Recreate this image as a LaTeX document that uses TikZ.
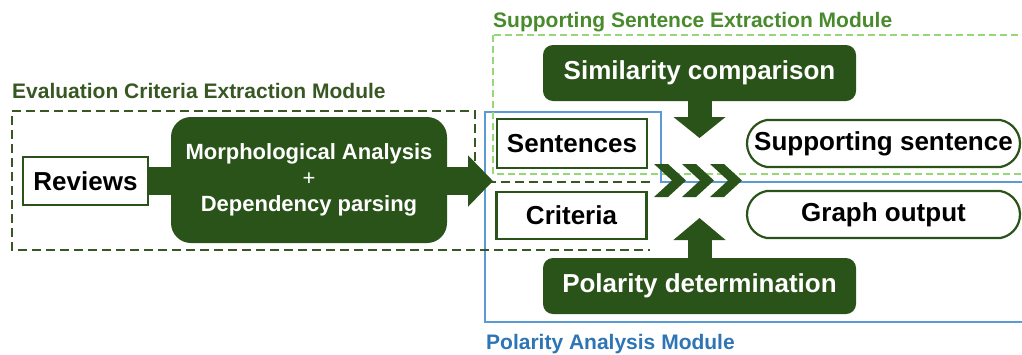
\documentclass[tikz,border=0pt]{standalone}
\usepackage{fontspec}
\setmainfont{Liberation Sans}
\usetikzlibrary{arrows.meta,shapes.misc}
\definecolor{DeepGreen}{RGB}{42,83,25}
\definecolor{TitleGreen}{RGB}{56,87,35}
\definecolor{MidGreen}{RGB}{72,138,44}
\definecolor{PaleGreen}{RGB}{150,215,120}
\definecolor{FrameBlue}{RGB}{91,155,213}
\definecolor{TitleBlue}{RGB}{46,117,182}
\tikzset{
  databox/.style={draw=DeepGreen,line width=2.4pt,fill=white,minimum width=150pt,
    minimum height=49pt,inner sep=0pt,font=\fontsize{26}{30}\selectfont\bfseries},
  stepbox/.style={fill=DeepGreen,rounded corners=10pt,text=white,minimum width=313pt,
    minimum height=56pt,inner sep=0pt,font=\fontsize{26}{30}\selectfont\bfseries},
  resultbox/.style={rounded rectangle,rounded rectangle arc length=160,draw=DeepGreen,
    line width=2.2pt,fill=white,minimum width=273pt,minimum height=47pt,inner sep=0pt,
    font=\fontsize{26}{30}\selectfont\bfseries},
  modtitle/.style={anchor=base west,inner sep=0pt,font=\fontsize{21}{25}\selectfont\bfseries},
  fatarrow/.style={DeepGreen,line width=#1}
}
\begin{document}
\begin{tikzpicture}[x=1pt,y=-1pt]
\useasboundingbox (0,0) rectangle (1022,354);
% module frames
\draw[FrameBlue,line width=2.4pt] (485,112) -- (661,112) -- (661,182) -- (1040,182)
  -- (1040,322) -- (485,322) -- cycle;
\draw[PaleGreen,line width=2.4pt,dash pattern=on 7pt off 4pt] (493,35) rectangle (1040,174);
\draw[TitleGreen,line width=2.4pt,dash pattern=on 9pt off 5pt] (650,182) -- (475,182)
  -- (475,111) -- (12,111) -- (12,250) -- (650,250);
\node[modtitle,text=TitleGreen] (evaltitle) at (12,98) {Evaluation Criteria Extraction Module};
\node[modtitle,text=MidGreen] (supptitle) at (493,27) {Supporting Sentence Extraction Module};
\node[modtitle,text=TitleBlue] (poltitle) at (486,349) {Polarity Analysis Module};

% extraction stage
\node[databox,minimum width=125pt,minimum height=48pt] (reviews) at (85.5,181) {Reviews};
\coordinate (mainhead) at (493,181);
\draw[fatarrow=28pt,-{Triangle[length=25pt,width=50pt]}] (reviews.east) -- (mainhead);
\node[stepbox,minimum width=276pt,minimum height=126pt,rounded corners=20pt,align=center,
  font=\fontsize{22}{26}\selectfont\bfseries] (morph) at (309,180)
  {Morphological Analysis\\{\mdseries+}\\Dependency parsing};

% inputs and processing
\node[databox] (sent) at (572,143.5) {Sentences};
\node[databox,minimum height=47pt] (crit) at (571.5,215.5) {Criteria};
\node[stepbox] (simil) at (699.5,73) {Similarity comparison};
\node[stepbox] (polar) at (699.5,286) {Polarity determination};
\coordinate (simhead) at (699.5,138);
\coordinate (polhead) at (699.5,218);
\draw[fatarrow=24pt,-{Triangle[length=21pt,width=51pt]}] (simil) -- (simhead);
\draw[fatarrow=24pt,-{Triangle[length=22pt,width=51pt]}] (polar) -- (polhead);
\foreach \i in {0,1,2}{
  \fill[DeepGreen] ({654+28*\i},164) -- ++(14,0) -- ++(18,16.5) -- ++(-18,16.5)
    -- ++(-14,0) -- ++(18,-16.5) -- cycle;}

% outputs
\node[resultbox] (supp) at (883.5,143.5) {Supporting sentence};
\node[resultbox] (graph) at (883.5,214.5) {Graph output};
\end{tikzpicture}
\end{document}
